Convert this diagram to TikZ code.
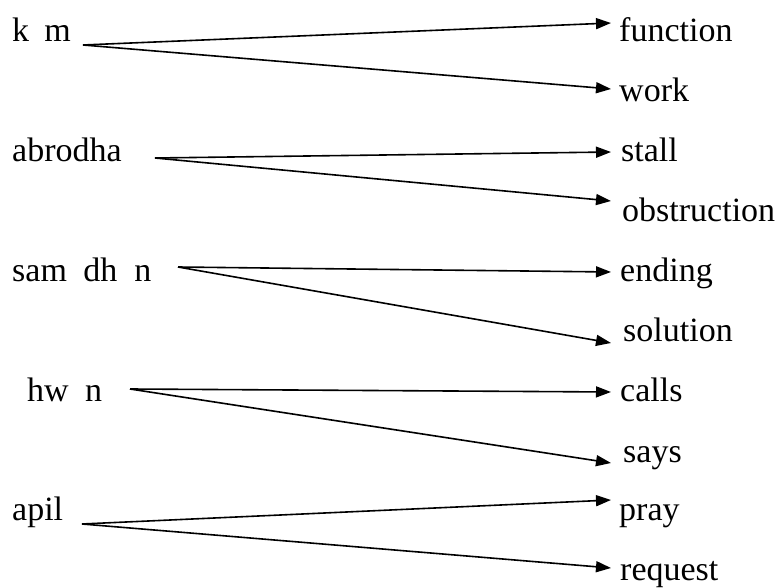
\documentclass[tikz,border=0pt]{standalone}
\usepackage{fontspec}
\setmainfont{Liberation Serif}
\usetikzlibrary{arrows.meta}
\begin{document}
\begin{tikzpicture}[x=1pt,y=-1pt,
  lbl/.style={anchor=base west,inner sep=0pt,font=\fontsize{34}{40}\selectfont},
  conn/.style={line width=1.6pt,-{Triangle[length=15pt,width=11pt]}}]
\useasboundingbox (0,0) rectangle (780,588);
% left labels
\node[lbl] (km) at (12,42) {k\hspace{0.45em}m};
\node[lbl] (abrodha) at (12,162) {abrodha};
\node[lbl] (samadhan) at (12,282) {sam\hspace{0.48em}dh\hspace{0.5em}n};
\node[lbl] (hwn) at (27,401) {hw\hspace{0.48em}n};
\node[lbl] (apil) at (12,520) {apil};
% right labels
\node[lbl] (function) at (619,42) {function};
\node[lbl] (work) at (619,102) {work};
\node[lbl] (stall) at (621,162) {stall};
\node[lbl] (obstruction) at (622,222) {obstruction};
\node[lbl] (ending) at (620,282) {ending};
\node[lbl] (solution) at (623,342) {solution};
\node[lbl] (calls) at (620,401) {calls};
\node[lbl] (says) at (623,462) {says};
\node[lbl] (pray) at (619,520) {pray};
\node[lbl] (request) at (620,580) {request};
% connector ends
\coordinate (kmS) at (83,45);
\coordinate (abS) at (155,158);
\coordinate (saS) at (178,267);
\coordinate (hwS) at (130,389);
\coordinate (apS) at (82,524);
\coordinate (functionT) at (611,23);
\coordinate (workT) at (611,89);
\coordinate (stallT) at (611,152);
\coordinate (obstructionT) at (611,201);
\coordinate (endingT) at (611,272);
\coordinate (solutionT) at (611,343);
\coordinate (callsT) at (611,392);
\coordinate (saysT) at (611,463);
\coordinate (prayT) at (611,500);
\coordinate (requestT) at (611,568);
% connectors
\draw[conn] (kmS) -- (functionT);
\draw[conn] (kmS) -- (workT);
\draw[conn] (abS) -- (stallT);
\draw[conn] (abS) -- (obstructionT);
\draw[conn] (saS) -- (endingT);
\draw[conn] (saS) -- (solutionT);
\draw[conn] (hwS) -- (callsT);
\draw[conn] (hwS) -- (saysT);
\draw[conn] (apS) -- (prayT);
\draw[conn] (apS) -- (requestT);
\end{tikzpicture}
\end{document}
